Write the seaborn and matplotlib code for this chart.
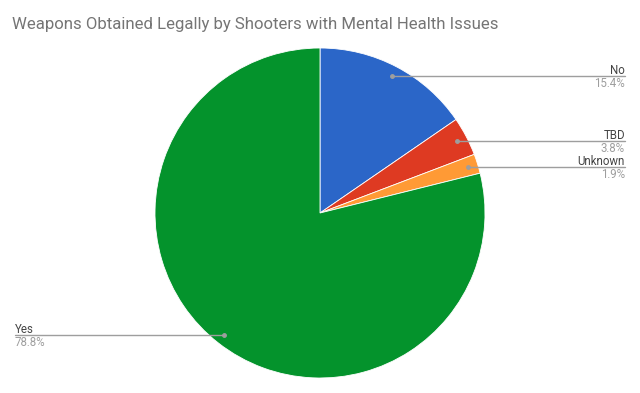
import numpy as np
import matplotlib
matplotlib.use("Agg")
import matplotlib.pyplot as plt
import seaborn as sns

labels = ["No", "TBD", "Unknown", "Yes"]
shares = [15.4, 3.8, 1.9, 78.8]
pct_labels = ["15.4%", "3.8%", "1.9%", "78.8%"]
colors = ["#2B66C8", "#DE3A22", "#FF9A35", "#04932C"]

sns.set_theme(style="white")
plt.rcParams['font.family'] = ['Roboto', 'DejaVu Sans']

fig = plt.figure(figsize=(6.4, 3.93), dpi=100)
fig.patch.set_facecolor("white")

# pie centre ~ (320, 213) px, radius ~165 px
ax = fig.add_axes([155 / 640, 15 / 393, 330 / 640, 330 / 393])
ax.set_aspect("equal")

wedges, _ = ax.pie(
    shares,
    colors=colors,
    startangle=90,
    counterclock=False,
    radius=1,
    wedgeprops=dict(linewidth=0.6, edgecolor="white"),
)
ax.set_xlim(-1, 1)
ax.set_ylim(-1, 1)
ax.axis("off")

px_unit = 1 / 165
right_x = (625 - 320) * px_unit
left_x = (15 - 320) * px_unit

for w, name, pct in zip(wedges, labels, pct_labels):
    mid = np.deg2rad((w.theta1 + w.theta2) / 2)
    px, py = 0.94 * np.cos(mid), 0.94 * np.sin(mid)
    end_x = right_x if px > 0 else left_x
    ha = "right" if px > 0 else "left"
    ax.plot([px, end_x], [py, py], color="#9E9E9E", lw=1, clip_on=False)
    ax.plot(px, py, "o", color="#9E9E9E", ms=2.5, clip_on=False)
    ax.text(end_x, py + 2 * px_unit, name, ha=ha, va="baseline", fontsize=8.3,
            color="#444444", clip_on=False)
    ax.text(end_x, py - 11 * px_unit, pct, ha=ha, va="baseline", fontsize=8.3,
            color="#9E9E9E", clip_on=False)

fig.text(12 / 640, 1 - 25 / 393, "Weapons Obtained Legally by Shooters with Mental Health Issues",
         ha="left", va="center", fontsize=12.1, color="#757575")

fig.savefig("out.png", dpi=100, facecolor="white")
